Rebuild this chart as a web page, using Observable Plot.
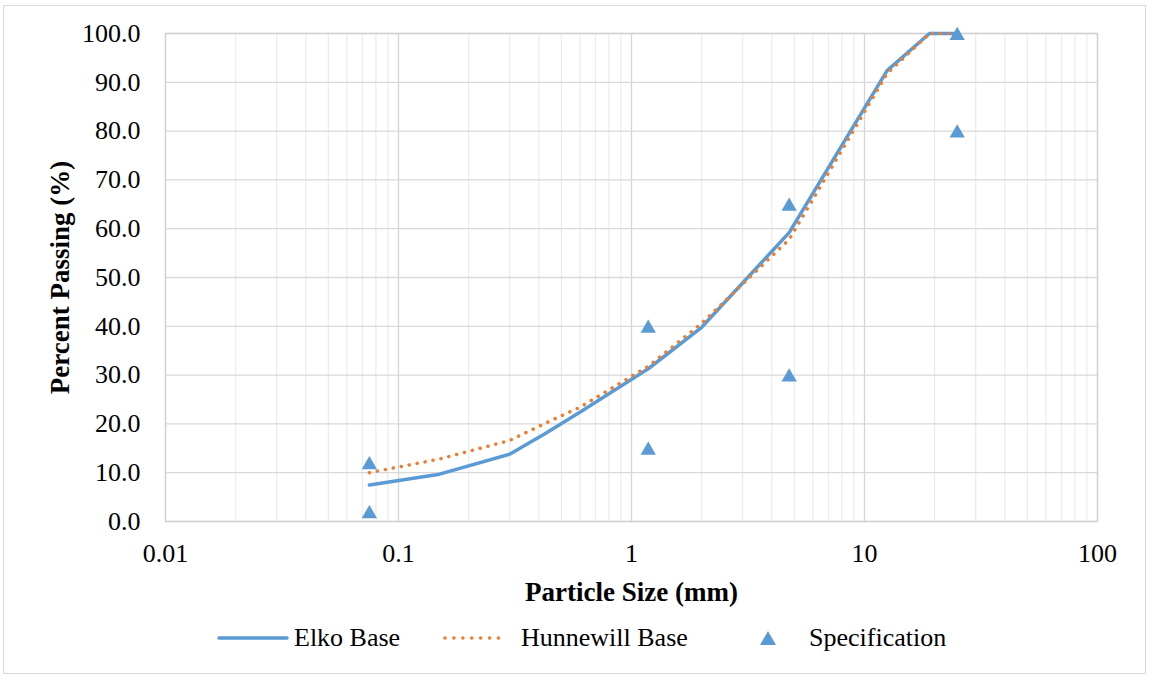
<!DOCTYPE html>
<html>
<head>
<meta charset="utf-8">
<script src="https://cdn.jsdelivr.net/npm/d3@7"></script>
<script src="https://cdn.jsdelivr.net/npm/@observablehq/plot@0.6"></script>
<style>
  html, body { margin: 0; padding: 0; background: #fff; }
  #frame { position: absolute; left: 3px; top: 5px; width: 1143px; height: 669px; border: 1px solid #d9d9d9; box-sizing: border-box; }
  #chart { position: absolute; left: 0; top: 0; }
  #legend { position: absolute; left: 0; top: 615px; width: 1152px; height: 45px; font-family: "Liberation Serif", "Times New Roman", serif; font-size: 26px; color: #000; }
  #legend .item { position: absolute; top: 0; height: 45px; display: flex; align-items: center; }
  #legend svg { display: block; }
</style>
</head>
<body>
<div id="frame"></div>
<div id="chart"></div>
<div id="legend"></div>
<script>
// ---- data ----
const sieveSizes = [0.075, 0.15, 0.3, 0.425, 0.6, 1.18, 2.0, 4.75, 12.5, 19, 25];
const elkoPassing = [7.5, 9.7, 13.8, 18.0, 22.4, 31.3, 39.8, 59.2, 92.4, 100, 100];
const hunnewillPassing = [10.0, 12.8, 16.6, 20.1, 23.4, 31.8, 40.6, 57.8, 91.8, 100, 100];
const specSizes = [0.075, 0.075, 1.18, 1.18, 4.75, 4.75, 25, 25];
const specPassing = [12, 2, 40, 15, 65, 30, 100, 80];

const xTicks = [0.01, 0.1, 1, 10, 100];
const xTickLabels = ["0.01", "0.1", "1", "10", "100"];
const yTicks = [0, 10, 20, 30, 40, 50, 60, 70, 80, 90, 100];
const seriesNames = ["Elko Base", "Hunnewill Base", "Specification"];
const seriesColors = ["#5B9BD5", "#ED7D31", "#5B9BD5"];

// minor log gridlines (2..9 within each decade)
const xMinor = [];
for (let i = 0; i < xTicks.length - 1; i++) {
  for (let k = 2; k <= 9; k++) xMinor.push(xTicks[i] * k);
}

const elko = sieveSizes.map((s, i) => ({size: s, passing: elkoPassing[i]}));
const hunn = sieveSizes.map((s, i) => ({size: s, passing: hunnewillPassing[i]}));
const spec = specSizes.map((s, i) => ({size: s, passing: specPassing[i]}));

const chart = Plot.plot({
  width: 1152,
  height: 610,
  marginLeft: 165,
  marginRight: 55,
  marginTop: 33,
  marginBottom: 89,
  style: {fontFamily: "'Liberation Serif', 'Times New Roman', serif", fontSize: "26px", color: "#000", background: "transparent"},
  x: {type: "log", domain: [0.01, 100]},
  y: {domain: [0, 100]},
  marks: [
    Plot.ruleX(xMinor, {stroke: "#ececec", strokeWidth: 1.3}),
    Plot.ruleX(xTicks, {stroke: "#d4d4d4", strokeWidth: 1.3}),
    Plot.ruleY(yTicks, {stroke: "#d9d9d9", strokeWidth: 1.3}),
    Plot.frame({stroke: "#d0d0d0", strokeWidth: 1.3}),
    Plot.axisX({ticks: xTicks, tickFormat: (d, i) => xTickLabels[xTicks.indexOf(d)], tickSize: 0, tickPadding: 22, label: null, fontSize: 26}),
    Plot.axisY({ticks: yTicks, tickFormat: d3.format(".1f"), tickSize: 0, tickPadding: 25, label: null, fontSize: 26}),
    Plot.text(["Particle Size (mm)"], {frameAnchor: "bottom", textAnchor: "middle", lineAnchor: "middle", dy: 71, fontWeight: "bold", fontSize: 27, fill: "#000"}),
    Plot.text(["Percent Passing (%)"], {frameAnchor: "left", textAnchor: "middle", lineAnchor: "middle", rotate: -90, dx: -105, fontWeight: "bold", fontSize: 27, fill: "#000"}),
    Plot.line(elko, {x: "size", y: "passing", stroke: seriesColors[0], strokeWidth: 3.5, strokeLinejoin: "round", strokeLinecap: "round"}),
    Plot.line(hunn, {x: "size", y: "passing", stroke: seriesColors[1], strokeWidth: 3.5, strokeDasharray: "0.1,8", strokeLinecap: "round"}),
    Plot.dot(spec, {x: "size", y: "passing", symbol: "triangle", r: 5.7, fill: seriesColors[2], stroke: "none", dy: 2})
  ]
});
document.getElementById("chart").appendChild(chart);

// ---- legend ----
const legend = document.getElementById("legend");
const items = [
  {left: 217, swatch: `<svg width="72" height="10"><line x1="2" y1="5" x2="70" y2="5" stroke="${seriesColors[0]}" stroke-width="3.5" stroke-linecap="round"/></svg>`, gap: 5},
  {left: 443, swatch: `<svg width="66" height="10"><line x1="2" y1="5" x2="64" y2="5" stroke="${seriesColors[1]}" stroke-width="3.5" stroke-dasharray="0.1,8.8" stroke-linecap="round"/></svg>`, gap: 12},
  {left: 759, swatch: `<svg width="18" height="16"><path d="M9,1 L17,15 L1,15 Z" fill="${seriesColors[2]}"/></svg>`, gap: 32}
];
items.forEach((it, i) => {
  const div = document.createElement("div");
  div.className = "item";
  div.style.left = it.left + "px";
  div.innerHTML = it.swatch + `<span style="margin-left:${it.gap}px">${seriesNames[i]}</span>`;
  legend.appendChild(div);
});
</script>
</body>
</html>
